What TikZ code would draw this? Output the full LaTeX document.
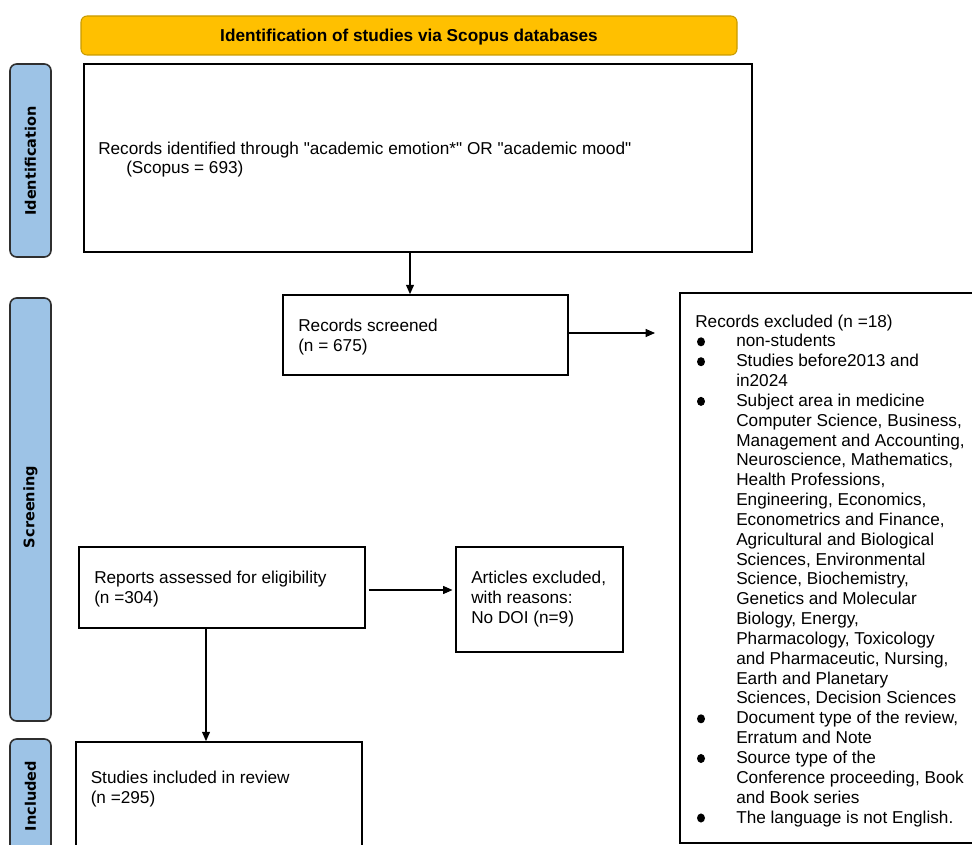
\documentclass[tikz,border=0pt]{standalone}
\usepackage{fontspec}
\setmainfont{Liberation Sans}[Ligatures=TeXOff]
\newfontfamily\sidefont{DejaVu Sans}
\usetikzlibrary{fit,arrows.meta,shapes.geometric}
\definecolor{hdrfill}{HTML}{FFC000}
\definecolor{hdrline}{HTML}{C89B00}
\definecolor{sidefill}{HTML}{9DC3E6}
\definecolor{sideline}{HTML}{2F2F2F}
\begin{document}
\begin{tikzpicture}[x=0.75pt,y=-0.75pt,
 box/.style={draw=black, line width=1.3pt, inner sep=0pt, fill=white},
 hdr/.style={draw=hdrline, fill=hdrfill, line width=0.8pt, rounded corners=4.5pt, inner sep=0pt},
 side/.style={draw=sideline, fill=sidefill, line width=1.2pt, rounded corners=5pt, inner sep=0pt},
 sidelabel/.style={rotate=90, font=\sidefont\bfseries\fontsize{10.9pt}{12pt}\selectfont, inner sep=0pt},
 txt/.style={anchor=base west, align=left, inner sep=0pt, font=\fontsize{12.9pt}{14.88pt}\selectfont},
 arr/.style={draw=black, line width=0.8pt, -{Triangle[length=7pt,width=6pt]}},
 dot/.style={ellipse, fill=black, inner sep=0pt, minimum width=6pt, minimum height=6.8pt}
]
\useasboundingbox (0,0) rectangle (972,845);
\clip (0,0) rectangle (972,845);

% header
\node[hdr, fit={(81,16) (737,55)}] (hdr) {};
\node[anchor=base, inner sep=0pt, font=\bfseries\fontsize{12.9pt}{14.88pt}\selectfont] (hdrt) at (409,42) {Identification of studies via Scopus databases};

% side bars
\node[side, fit={(10,64) (51,257)}] (sid) {};
\node[sidelabel] (sidt) at (30.5,161) {Identification};
\node[side, fit={(10,298) (51,721)}] (sscr) {};
\node[sidelabel] (sscrt) at (30.5,507) {Screening};
\node[side, fit={(10,739) (51,880)}] (sinc) {};
\node[sidelabel] (sinct) at (30.5,796) {Included};

% boxes (text nodes anchored at the baseline of their last line)
\node[box, fit={(84,64) (752,252)}] (b1) {};
\node[txt] (b1t) at (98,174) {Records identified through "academic emotion*" OR "academic mood"\\\hspace*{21pt}(Scopus = 693)};

\node[box, fit={(283,295) (568,375)}] (scr) {};
\node[txt] (scrt) at (298,351) {Records screened\\(n = 675)};

\node[box, fit={(680,293) (1000,843)}] (exc) {};
\node[txt] (exch) at (695,327) {Records excluded (n =18)};
\node[txt] (excl) at (736,823) {non-students\\
Studies before2013 and\\
in2024\\
Subject area in medicine\\
Computer Science, Business,\\
Management and Accounting,\\
Neuroscience, Mathematics,\\
Health Professions,\\
Engineering, Economics,\\
Econometrics and Finance,\\
Agricultural and Biological\\
Sciences, Environmental\\
Science, Biochemistry,\\
Genetics and Molecular\\
Biology, Energy,\\
Pharmacology, Toxicology\\
and Pharmaceutic, Nursing,\\
Earth and Planetary\\
Sciences, Decision Sciences\\
Document type of the review,\\
Erratum and Note\\
Source type of the\\
Conference proceeding, Book\\
and Book series\\
The language is not English.};
\node[dot] (d1) at (701,341.8) {};
\node[dot] (d2) at (701,361.7) {};
\node[dot] (d3) at (701,401.4) {};
\node[dot] (d4) at (701,718.8) {};
\node[dot] (d5) at (701,758.5) {};
\node[dot] (d6) at (701,818.0) {};

\node[box, fit={(79,547) (365,628)}] (rep) {};
\node[txt] (rept) at (94,603) {Reports assessed for eligibility\\(n =304)};

\node[box, fit={(456,547) (623,652)}] (art) {};
\node[txt] (artt) at (471,623) {Articles excluded,\\with reasons:\\No DOI (n=9)};

\node[box, fit={(76,742) (362,880)}] (inc) {};
\node[txt] (inct) at (90.5,803) {Studies included in review\\(n =295)};

% connectors
\coordinate (a1) at (410,252);
\draw[arr] (a1) -- (a1 |- scr.north);
\coordinate (a2e) at (655,333);
\draw[arr] (scr.east |- a2e) -- (a2e);
\coordinate (a3s) at (369,590);
\draw[arr] (a3s) -- ([xshift=-2pt]a3s -| art.west);
\coordinate (a4) at (206,628);
\draw[arr] (a4) -- (a4 |- inc.north);
\end{tikzpicture}
\end{document}
